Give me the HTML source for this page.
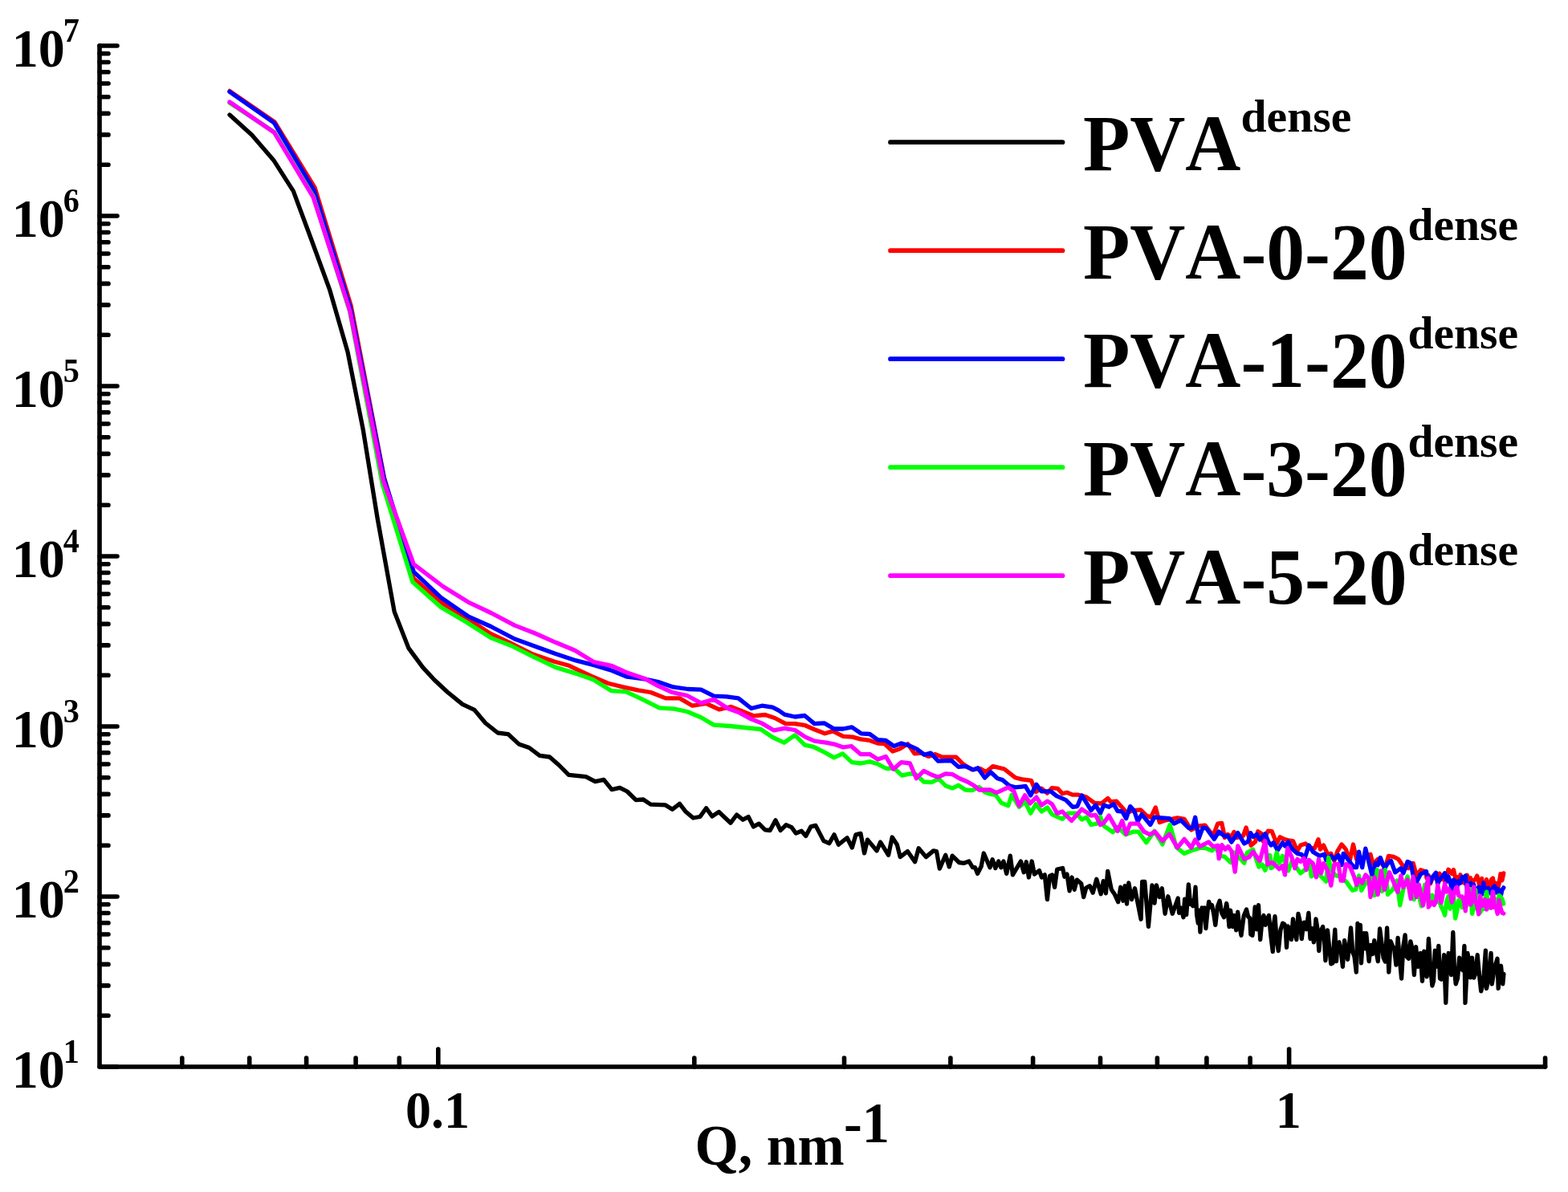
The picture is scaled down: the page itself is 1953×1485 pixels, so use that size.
<!DOCTYPE html>
<html><head><meta charset="utf-8"><title>SAXS</title>
<style>html,body{margin:0;padding:0;background:#fff;overflow:hidden}svg{display:block}text{font-kerning:none}</style>
</head><body>
<svg width="1953" height="1485" viewBox="0 0 1953 1485" font-family="'Liberation Serif', 'Times New Roman', serif" font-weight="bold" style="font-kerning:none">
<path d="M124.0,57.0 L124.0,1329.0 L1924.6,1329.0" fill="none" stroke="#000" stroke-width="5.6" stroke-linecap="round" stroke-linejoin="round"/>
<path d="M124.0,1329.0h22M124.0,1265.2h11M124.0,1227.9h11M124.0,1201.4h11M124.0,1180.8h11M124.0,1164.0h11M124.0,1149.8h11M124.0,1137.5h11M124.0,1126.7h11M124.0,1117.0h22M124.0,1053.2h11M124.0,1015.9h11M124.0,989.4h11M124.0,968.8h11M124.0,952.0h11M124.0,937.8h11M124.0,925.5h11M124.0,914.7h11M124.0,905.0h22M124.0,841.2h11M124.0,803.9h11M124.0,777.4h11M124.0,756.8h11M124.0,740.0h11M124.0,725.8h11M124.0,713.5h11M124.0,702.7h11M124.0,693.0h22M124.0,629.2h11M124.0,591.9h11M124.0,565.4h11M124.0,544.8h11M124.0,528.0h11M124.0,513.8h11M124.0,501.5h11M124.0,490.7h11M124.0,481.0h22M124.0,417.2h11M124.0,379.9h11M124.0,353.4h11M124.0,332.8h11M124.0,316.0h11M124.0,301.8h11M124.0,289.5h11M124.0,278.7h11M124.0,269.0h22M124.0,205.2h11M124.0,167.9h11M124.0,141.4h11M124.0,120.8h11M124.0,104.0h11M124.0,89.8h11M124.0,77.5h11M124.0,66.7h11M124.0,57.0h22M545.8,1329.0v-22M1605.6,1329.0v-22M226.8,1329.0v-11M310.7,1329.0v-11M381.6,1329.0v-11M443.1,1329.0v-11M497.3,1329.0v-11M864.8,1329.0v-11M1051.5,1329.0v-11M1183.9,1329.0v-11M1286.6,1329.0v-11M1370.5,1329.0v-11M1441.4,1329.0v-11M1502.9,1329.0v-11M1557.1,1329.0v-11M1924.6,1329.0v-11" fill="none" stroke="#000" stroke-width="5.6" stroke-linecap="round"/>
<text transform="translate(14.72,1355.0) scale(0.978,1)" font-size="67.5">10</text>
<text transform="translate(78.8,1323.7) scale(0.97,1)" font-size="41.5">1</text>
<text transform="translate(14.72,1143.0) scale(0.978,1)" font-size="67.5">10</text>
<text transform="translate(78.8,1111.7) scale(0.97,1)" font-size="41.5">2</text>
<text transform="translate(14.72,931.0) scale(0.978,1)" font-size="67.5">10</text>
<text transform="translate(78.8,899.7) scale(0.97,1)" font-size="41.5">3</text>
<text transform="translate(14.72,719.0) scale(0.978,1)" font-size="67.5">10</text>
<text transform="translate(78.8,687.7) scale(0.97,1)" font-size="41.5">4</text>
<text transform="translate(14.72,507.0) scale(0.978,1)" font-size="67.5">10</text>
<text transform="translate(78.8,475.7) scale(0.97,1)" font-size="41.5">5</text>
<text transform="translate(14.72,295.0) scale(0.978,1)" font-size="67.5">10</text>
<text transform="translate(78.8,263.7) scale(0.97,1)" font-size="41.5">6</text>
<text transform="translate(14.72,83.0) scale(0.978,1)" font-size="67.5">10</text>
<text transform="translate(78.8,51.7) scale(0.97,1)" font-size="41.5">7</text>
<text transform="translate(545.0,1405) scale(0.97,1)" font-size="66" text-anchor="middle">0.1</text>
<text transform="translate(1604.8,1405) scale(0.97,1)" font-size="66" text-anchor="middle">1</text>
<text transform="translate(865.5,1450.5) scale(0.97,1)" font-size="72">Q, nm</text>
<text transform="translate(1051,1423) scale(0.95,1)" font-size="72">-1</text>
<path d="M1109,177.2H1323.5" stroke="#000000" stroke-width="5.7" stroke-linecap="round"/>
<text transform="translate(1348.9,212) scale(0.963,1)" font-size="99.3">PVA</text>
<text x="1545.6" y="164.3" font-size="57.6">dense</text>
<path d="M1109,312.2H1323.5" stroke="#ff0000" stroke-width="5.7" stroke-linecap="round"/>
<text transform="translate(1348.9,347) scale(0.963,1)" font-size="99.3">PVA-0-20</text>
<text x="1753.5" y="299.3" font-size="57.6">dense</text>
<path d="M1109,447.2H1323.5" stroke="#0000ff" stroke-width="5.7" stroke-linecap="round"/>
<text transform="translate(1348.9,482) scale(0.963,1)" font-size="99.3">PVA-1-20</text>
<text x="1753.5" y="434.3" font-size="57.6">dense</text>
<path d="M1109,582.2H1323.5" stroke="#00ff00" stroke-width="5.7" stroke-linecap="round"/>
<text transform="translate(1348.9,617) scale(0.963,1)" font-size="99.3">PVA-3-20</text>
<text x="1753.5" y="569.3" font-size="57.6">dense</text>
<path d="M1109,717.2H1323.5" stroke="#ff00ff" stroke-width="5.7" stroke-linecap="round"/>
<text transform="translate(1348.9,752) scale(0.963,1)" font-size="99.3">PVA-5-20</text>
<text x="1753.5" y="704.3" font-size="57.6">dense</text>
<path d="M286.0,143.0 L313.8,168.3 L340.7,199.4 L365.4,238.2 L388.0,299.0 L410.8,361.4 L433.0,438.2 L452.3,535.6 L470.1,645.5 L491.2,762.1 L508.9,807.4 L526.6,831.4 L541.0,847.0 L557.7,862.5 L576.0,877.4 L590.9,884.4 L604.6,900.7 L620.0,913.0 L633.0,914.6 L646.1,926.9 L659.1,931.5 L672.2,941.4 L684.5,943.0 L696.0,953.0 L708.3,965.3 L729.8,967.6 L741.3,973.7 L752.1,971.4 L762.0,983.7 L772.0,981.4 L781.2,986.0 L792.0,996.7 L801.2,996.0 L810.4,1002.1 L828.9,1002.9 L837.3,1008.3 L846.5,1001.4 L854.2,1011.3 L863.4,1019.0 L871.9,1017.5 L879.6,1006.7 L886.9,1016.9 L895.4,1011.5 L910.0,1025.3 L917.6,1015.0 L925.3,1021.2 L932.2,1017.6 L938.4,1029.9 L945.3,1026.1 L953.0,1033.8 L959.1,1034.5 L966.0,1021.8 L972.2,1034.5 L979.1,1027.6 L986.0,1030.7 L991.4,1038.1 L998.3,1035.3 L1003.7,1041.4 L1009.8,1029.9 L1015.9,1028.4 L1025.9,1047.6 L1032.8,1050.7 L1039.0,1039.9 L1044.4,1052.2 L1055.1,1043.7 L1061.3,1056.0 L1065.9,1039.9 L1072.0,1038.4 L1076.6,1062.9 L1080.5,1046.1 L1092.0,1059.9 L1096.6,1049.1 L1106.6,1065.3 L1111.2,1043.0 L1117.3,1052.2 L1121.2,1067.6 L1130.4,1060.6 L1139.6,1073.7 L1144.2,1056.8 L1153.4,1067.6 L1162.6,1059.9 L1166.5,1060.6 L1170.3,1082.1 L1177.7,1065.3 L1182.3,1079.9 L1186.1,1066.1 L1194.6,1074.5 L1200.7,1075.3 L1206.9,1073.0 L1211.5,1080.7 L1214.5,1080.7 L1217.6,1088.4 L1222.2,1079.2 L1225.3,1063.0 L1233.0,1080.7 L1236.1,1070.7 L1239.9,1081.5 L1243.7,1073.0 L1246.8,1080.7 L1249.9,1073.0 L1253.7,1088.4 L1258.3,1066.1 L1261.4,1089.9 L1271.4,1073.0 L1275.2,1086.8 L1278.3,1073.8 L1281.4,1093.0 L1285.2,1073.0 L1288.3,1089.1 L1294.4,1084.5 L1297.5,1093.0 L1301.3,1089.9 L1304.4,1120.6 L1307.5,1091.4 L1310.6,1089.9 L1313.6,1105.3 L1316.7,1083.0 L1323.6,1081.5 L1325.9,1092.2 L1329.0,1089.1 L1332.1,1109.9 L1335.1,1093.0 L1338.2,1108.3 L1341.3,1096.1 L1346.7,1100.7 L1349.7,1117.6 L1352.8,1106.0 L1357.4,1103.7 L1361.2,1112.2 L1365.8,1095.3 L1371.2,1113.7 L1374.3,1097.6 L1377.4,1112.9 L1379.7,1085.3 L1384.3,1108.3 L1388.1,1113.7 L1392.7,1123.7 L1395.8,1105.3 L1398.9,1122.2 L1401.2,1103.7 L1403.5,1126.0 L1405.8,1099.9 L1409.6,1120.6 L1413.5,1106.8 L1421.1,1145.2 L1422.7,1098.4 L1425.8,1098.4 L1430.4,1154.4 L1435.0,1103.0 L1438.0,1125.2 L1440.4,1103.0 L1444.2,1117.6 L1447.3,1106.8 L1451.1,1138.3 L1454.9,1116.8 L1460.3,1138.3 L1467.2,1119.1 L1468.6,1137.3 L1470.8,1130.9 L1474.0,1142.7 L1475.6,1120.1 L1477.7,1139.5 L1480.4,1101.8 L1482.6,1126.6 L1484.2,1121.7 L1485.8,1128.7 L1487.4,1123.9 L1489.0,1105.1 L1490.7,1140.2 L1492.3,1150.2 L1493.6,1134.2 L1494.9,1161.0 L1497.1,1130.9 L1498.7,1142.6 L1500.3,1130.9 L1501.9,1156.7 L1503.8,1137.2 L1505.7,1123.3 L1507.6,1130.1 L1509.5,1127.6 L1511.7,1138.2 L1513.8,1152.4 L1516.4,1129.7 L1519.1,1122.3 L1521.8,1137.6 L1524.5,1142.7 L1526.1,1133.7 L1527.7,1125.5 L1529.3,1135.8 L1531.0,1154.5 L1532.6,1134.1 L1533.9,1143.4 L1535.3,1154.5 L1537.4,1140.5 L1539.6,1158.8 L1541.7,1136.2 L1543.8,1153.6 L1546.0,1165.3 L1549.2,1140.9 L1552.5,1133.0 L1554.7,1142.1 L1556.8,1143.8 L1557.8,1164.2 L1560.0,1165.3 L1561.6,1150.9 L1563.2,1129.8 L1565.3,1157.9 L1567.5,1127.6 L1569.7,1170.6 L1571.8,1148.7 L1574.0,1140.5 L1576.1,1152.4 L1578.2,1145.6 L1580.4,1140.5 L1582.8,1165.1 L1585.3,1185.7 L1586.7,1150.1 L1588.0,1141.6 L1590.2,1171.9 L1592.3,1184.6 L1594.9,1158.6 L1597.6,1150.2 L1599.8,1151.3 L1601.2,1156.1 L1602.5,1180.3 L1604.1,1154.0 L1605.7,1156.7 L1607.1,1155.9 L1608.4,1170.6 L1610.5,1144.8 L1612.7,1162.6 L1614.8,1170.6 L1617.0,1138.4 L1619.2,1148.1 L1621.3,1169.6 L1622.9,1156.2 L1624.5,1149.1 L1627.2,1157.7 L1629.9,1137.3 L1632.0,1169.6 L1634.2,1156.6 L1636.3,1173.9 L1637.7,1163.6 L1639.0,1144.8 L1640.9,1156.6 L1642.8,1184.6 L1645.2,1159.8 L1647.6,1154.5 L1649.2,1165.6 L1650.9,1196.5 L1653.5,1158.8 L1655.7,1180.7 L1657.8,1200.8 L1660.0,1199.8 L1661.4,1176.0 L1662.8,1158.2 L1664.5,1197.6 L1666.2,1175.0 L1667.9,1173.9 L1670.2,1184.2 L1672.4,1204.3 L1674.6,1171.7 L1676.6,1183.3 L1678.6,1195.3 L1680.5,1177.8 L1682.5,1155.9 L1684.8,1186.3 L1687.0,1191.8 L1689.3,1211.1 L1691.0,1150.3 L1692.7,1187.4 L1694.4,1152.5 L1695.5,1199.8 L1697.2,1173.2 L1698.9,1162.7 L1700.3,1181.9 L1701.7,1162.7 L1703.4,1180.4 L1705.1,1197.6 L1707.3,1177.3 L1709.5,1188.6 L1711.8,1171.7 L1714.0,1184.8 L1716.3,1197.6 L1718.6,1157.0 L1720.8,1174.2 L1723.1,1193.1 L1725.3,1198.0 L1727.6,1155.9 L1729.8,1211.1 L1732.1,1172.7 L1734.4,1178.4 L1736.7,1182.5 L1738.9,1202.1 L1741.1,1168.3 L1743.3,1194.4 L1745.6,1219.0 L1747.8,1179.4 L1750.1,1164.9 L1752.3,1192.1 L1754.6,1194.2 L1756.9,1172.8 L1759.2,1182.6 L1761.4,1214.5 L1763.6,1179.6 L1765.9,1204.3 L1767.6,1201.4 L1769.3,1187.5 L1771.5,1222.4 L1773.8,1185.2 L1775.5,1207.4 L1777.2,1216.7 L1779.4,1169.4 L1781.7,1205.6 L1783.9,1228.0 L1785.6,1221.7 L1787.3,1184.1 L1789.5,1204.0 L1791.8,1178.4 L1793.5,1219.0 L1795.2,1220.1 L1796.9,1211.4 L1798.6,1189.7 L1800.8,1249.4 L1802.5,1205.1 L1804.2,1187.5 L1805.9,1196.8 L1807.6,1214.5 L1809.8,1161.5 L1811.5,1208.5 L1813.2,1225.8 L1815.5,1218.9 L1817.7,1193.1 L1820.0,1207.0 L1822.2,1208.9 L1823.9,1178.4 L1825.0,1249.4 L1826.5,1219.3 L1827.9,1187.5 L1829.6,1196.6 L1831.2,1217.9 L1833.5,1193.1 L1835.8,1218.2 L1838.0,1212.2 L1840.2,1189.7 L1842.5,1214.6 L1844.7,1234.8 L1847.6,1223.2 L1850.4,1184.1 L1851.5,1231.4 L1854.3,1217.4 L1857.1,1187.5 L1858.3,1225.8 L1861.7,1204.5 L1865.0,1194.2 L1866.2,1231.4 L1867.8,1209.0 L1869.5,1203.2 L1871.8,1225.8 L1872.9,1213.4" fill="none" stroke="#000" stroke-width="5.3" stroke-linejoin="round" stroke-linecap="round"/>
<path d="M286.0,113.4 L342.0,152.0 L392.2,234.0 L437.2,381.0 L478.5,595.0 L515.2,720.4 L552.0,752.2 L581.7,769.9 L610.0,789.0 L636.9,801.7 L663.7,815.1 L690.6,824.3 L709.0,829.3 L720.0,834.6 L737.3,842.6 L757.3,851.2 L775.9,855.9 L794.6,859.9 L810.5,862.5 L829.2,869.9 L846.5,869.9 L862.5,879.2 L879.8,876.5 L895.7,883.8 L910.4,880.5 L923.7,885.8 L938.3,891.8 L953.0,890.5 L965.0,894.5 L978.6,901.6 L990.1,901.6 L1003.0,903.7 L1014.4,908.7 L1027.3,913.8 L1037.4,910.9 L1050.3,917.3 L1061.8,918.1 L1071.8,920.9 L1083.3,922.4 L1093.3,926.0 L1101.9,926.7 L1111.9,936.0 L1120.5,933.1 L1130.6,926.7 L1139.2,938.9 L1147.8,938.1 L1156.4,942.4 L1165.0,939.6 L1173.6,943.2 L1190.8,943.2 L1199.4,951.8 L1210.9,958.9 L1220.9,957.5 L1228.1,961.8 L1236.7,954.6 L1250.8,958.0 L1264.4,968.7 L1273.0,970.9 L1284.4,972.3 L1290.2,986.6 L1297.3,982.3 L1304.5,988.1 L1310.3,981.6 L1317.4,982.3 L1323.2,988.8 L1328.9,987.3 L1336.1,990.2 L1343.2,990.2 L1353.3,993.1 L1363.3,1000.3 L1371.9,1001.0 L1379.8,994.5 L1383.4,998.8 L1390.5,998.1 L1397.7,1006.0 L1403.4,1012.4 L1412.0,1009.6 L1420.6,1008.9 L1427.8,1016.0 L1433.5,1018.2 L1439.3,1006.0 L1444.3,1024.6 L1452.2,1021.8 L1466.5,1018.9 L1475.1,1020.3 L1483.7,1033.9 L1493.8,1028.9 L1500.9,1028.2 L1511.0,1041.1 L1516.7,1026.1 L1521.8,1025.5 L1525.5,1043.6 L1529.1,1039.4 L1533.9,1042.4 L1537.0,1036.4 L1540.0,1043.6 L1548.5,1041.2 L1552.1,1030.9 L1558.2,1053.3 L1563.6,1048.5 L1566.7,1035.8 L1571.5,1038.8 L1573.3,1047.9 L1579.4,1035.2 L1584.1,1035.6 L1590.2,1051.0 L1594.3,1042.8 L1600.5,1045.8 L1604.6,1046.9 L1610.7,1047.9 L1615.8,1060.2 L1619.9,1053.0 L1626.1,1051.0 L1631.2,1056.1 L1637.3,1057.1 L1642.0,1045.8 L1644.5,1058.1 L1648.6,1053.0 L1653.7,1064.3 L1657.8,1063.3 L1661.9,1072.5 L1666.0,1060.2 L1671.1,1052.0 L1676.3,1058.1 L1681.4,1071.4 L1685.5,1052.0 L1689.6,1070.4 L1695.7,1069.4 L1707.0,1064.3 L1710.1,1076.6 L1716.2,1070.4 L1725.4,1080.7 L1729.5,1066.3 L1735.7,1067.3 L1741.8,1070.4 L1748.0,1079.6 L1754.1,1081.7 L1760.2,1075.5 L1764.3,1090.9 L1769.5,1083.7 L1776.0,1086.0 L1777.0,1093.9 L1779.3,1090.5 L1781.6,1100.8 L1783.9,1094.6 L1786.2,1093.0 L1788.4,1094.6 L1790.7,1089.2 L1792.9,1088.2 L1795.1,1095.8 L1797.4,1090.1 L1799.6,1097.9 L1801.8,1091.9 L1804.0,1083.2 L1806.1,1085.4 L1808.3,1088.4 L1810.5,1083.6 L1812.6,1093.6 L1814.8,1092.7 L1816.9,1100.8 L1819.0,1089.8 L1821.1,1094.2 L1823.2,1099.6 L1825.3,1101.0 L1827.4,1090.3 L1829.4,1106.7 L1831.5,1093.6 L1833.6,1105.4 L1835.6,1096.3 L1837.6,1095.9 L1839.7,1091.1 L1841.7,1098.1 L1843.7,1109.4 L1845.7,1094.5 L1847.7,1108.7 L1849.7,1107.3 L1851.6,1095.7 L1853.6,1105.8 L1855.6,1107.7 L1857.5,1095.8 L1859.4,1094.1 L1861.4,1105.8 L1863.3,1100.2 L1865.2,1109.6 L1867.1,1100.6 L1869.0,1088.6 L1870.9,1096.8 L1872.8,1087.9" fill="none" stroke="#ff0000" stroke-width="5.3" stroke-linejoin="round" stroke-linecap="round"/>
<path d="M286.0,114.4 L341.5,153.1 L391.3,237.5 L436.5,384.0 L478.3,596.0 L515.3,712.3 L549.2,744.4 L583.1,767.8 L611.4,780.5 L641.1,796.0 L666.5,805.2 L692.0,814.4 L717.4,822.9 L740.0,828.6 L759.9,834.6 L781.2,843.2 L802.5,845.9 L821.2,849.9 L838.5,855.9 L857.1,858.5 L873.1,859.2 L889.1,867.2 L905.0,867.9 L919.7,869.9 L935.7,882.5 L949.0,879.2 L962.3,881.2 L970.0,885.1 L977.2,890.1 L990.1,893.0 L1002.3,891.5 L1014.4,901.6 L1026.6,900.9 L1038.8,908.0 L1050.3,908.0 L1061.0,905.9 L1072.5,913.8 L1083.3,914.5 L1093.3,921.6 L1103.3,922.4 L1113.4,929.5 L1122.7,926.0 L1132.0,928.8 L1142.0,933.1 L1151.4,940.3 L1159.2,938.1 L1168.6,948.2 L1185.0,947.5 L1193.7,955.3 L1202.3,954.6 L1212.3,958.9 L1218.0,956.8 L1226.6,969.0 L1233.8,961.8 L1242.4,969.7 L1248.6,971.6 L1257.2,978.7 L1264.4,980.9 L1277.3,979.5 L1283.7,990.9 L1290.9,977.3 L1297.3,985.9 L1308.8,985.9 L1316.0,991.6 L1327.5,996.7 L1336.1,1005.3 L1341.8,1004.6 L1347.5,990.9 L1359.0,1009.6 L1364.7,1003.1 L1370.5,1013.2 L1374.8,1003.1 L1381.2,1005.3 L1387.0,1001.7 L1392.0,1010.3 L1397.7,1011.0 L1402.7,1019.6 L1407.7,1004.6 L1412.8,1010.3 L1417.1,1023.2 L1422.1,1014.6 L1432.8,1027.5 L1437.8,1018.2 L1446.5,1018.9 L1456.5,1019.6 L1462.2,1026.1 L1470.8,1021.8 L1480.9,1031.8 L1485.2,1031.1 L1488.7,1018.2 L1493.1,1044.7 L1498.1,1031.1 L1502.4,1031.8 L1512.4,1045.4 L1518.1,1036.1 L1525.5,1041.8 L1529.1,1041.2 L1533.9,1049.1 L1541.8,1037.6 L1549.7,1050.9 L1554.5,1048.5 L1557.6,1037.6 L1560.6,1042.4 L1565.5,1039.4 L1569.1,1046.1 L1575.8,1038.8 L1580.0,1048.9 L1583.1,1053.0 L1586.1,1049.9 L1591.3,1059.2 L1597.4,1049.9 L1600.5,1054.0 L1604.6,1048.9 L1609.7,1058.1 L1615.8,1063.3 L1621.0,1064.3 L1625.1,1069.4 L1630.2,1053.0 L1635.3,1061.2 L1643.5,1066.3 L1649.6,1064.3 L1651.7,1071.4 L1657.8,1066.3 L1661.9,1070.4 L1667.0,1065.3 L1671.1,1077.6 L1673.2,1063.3 L1677.3,1068.4 L1682.4,1075.5 L1686.5,1080.7 L1689.6,1080.7 L1692.6,1061.2 L1696.7,1080.7 L1700.8,1057.1 L1709.0,1090.9 L1713.1,1075.5 L1716.2,1077.6 L1719.3,1068.4 L1724.4,1081.7 L1728.5,1075.5 L1732.6,1072.5 L1737.7,1086.8 L1744.9,1081.7 L1747.9,1087.8 L1753.1,1073.5 L1757.2,1075.5 L1760.2,1090.9 L1764.3,1099.1 L1769.5,1088.9 L1776.6,1085.8 L1777.0,1089.3 L1779.3,1093.5 L1781.6,1099.3 L1783.9,1093.0 L1786.2,1090.2 L1788.4,1087.2 L1790.7,1101.4 L1792.9,1096.0 L1795.1,1093.3 L1797.4,1091.3 L1799.6,1087.7 L1801.8,1098.5 L1804.0,1092.1 L1806.1,1097.9 L1808.3,1108.0 L1810.5,1096.2 L1812.6,1097.8 L1814.8,1105.2 L1816.9,1097.7 L1819.0,1100.3 L1821.1,1092.5 L1823.2,1094.8 L1825.3,1090.9 L1827.4,1108.1 L1829.4,1110.4 L1831.5,1100.2 L1833.6,1103.0 L1835.6,1102.0 L1837.6,1115.8 L1839.7,1111.7 L1841.7,1105.1 L1843.7,1110.1 L1845.7,1114.1 L1847.7,1099.8 L1849.7,1109.9 L1851.6,1109.8 L1853.6,1106.2 L1855.6,1111.0 L1857.5,1113.7 L1859.4,1106.3 L1861.4,1103.8 L1863.3,1112.1 L1865.2,1107.2 L1867.1,1108.9 L1869.0,1117.4 L1870.9,1108.8 L1872.8,1105.9" fill="none" stroke="#0000ff" stroke-width="5.3" stroke-linejoin="round" stroke-linecap="round"/>
<path d="M286.0,128.0 L341.5,164.5 L390.4,245.0 L435.8,388.5 L476.3,603.0 L513.9,725.1 L549.2,756.5 L580.3,774.8 L611.4,794.6 L636.9,804.5 L665.1,818.7 L692.0,831.4 L720.0,839.9 L738.6,846.6 L761.3,860.5 L779.9,861.9 L799.9,871.2 L821.2,881.8 L839.8,883.2 L855.8,886.5 L873.1,893.8 L889.1,903.1 L909.0,904.5 L927.7,906.5 L947.6,908.5 L962.3,918.5 L976.5,925.2 L990.1,915.9 L1002.3,928.1 L1013.0,930.3 L1027.3,937.4 L1038.8,943.9 L1049.6,938.9 L1061.0,949.6 L1071.8,951.0 L1083.3,948.9 L1093.3,951.8 L1104.1,957.5 L1113.4,956.8 L1123.4,966.1 L1133.4,963.9 L1140.6,964.7 L1150.6,974.0 L1160.0,974.7 L1169.3,970.4 L1177.9,979.0 L1186.5,981.9 L1193.7,978.3 L1202.3,984.0 L1210.9,984.7 L1219.5,980.4 L1226.6,986.9 L1235.2,989.7 L1240.0,990.2 L1247.2,1000.3 L1255.8,1003.8 L1260.1,990.2 L1269.4,1005.3 L1276.6,998.8 L1283.7,1013.2 L1290.2,1001.7 L1297.3,1011.0 L1304.5,1006.0 L1310.3,1014.6 L1323.2,1020.3 L1330.3,1013.2 L1340.4,1013.2 L1347.5,1021.0 L1353.3,1018.2 L1359.0,1027.5 L1366.2,1026.1 L1370.5,1017.5 L1374.8,1028.9 L1386.2,1036.8 L1392.0,1030.4 L1402.0,1039.7 L1412.0,1036.1 L1417.8,1036.1 L1427.8,1049.7 L1437.8,1035.4 L1447.9,1051.9 L1457.2,1027.5 L1465.1,1055.4 L1475.1,1063.3 L1483.7,1059.7 L1495.2,1056.2 L1502.4,1056.9 L1509.5,1059.7 L1513.9,1054.5 L1519.0,1066.0 L1525.5,1067.3 L1532.7,1074.5 L1537.0,1062.0 L1543.6,1068.5 L1549.7,1075.2 L1553.3,1062.4 L1560.6,1058.2 L1567.9,1080.0 L1572.1,1077.0 L1575.8,1084.2 L1581.8,1065.5 L1583.1,1081.7 L1586.1,1079.6 L1590.2,1062.2 L1593.3,1075.5 L1597.4,1066.3 L1604.6,1084.8 L1609.7,1071.4 L1613.8,1079.6 L1619.9,1087.8 L1625.1,1083.7 L1631.2,1077.6 L1633.3,1091.9 L1638.4,1087.8 L1644.5,1090.9 L1651.7,1098.1 L1654.8,1068.4 L1657.8,1083.7 L1664.0,1090.9 L1669.1,1091.9 L1677.3,1099.1 L1684.5,1109.3 L1688.5,1108.3 L1692.6,1090.9 L1695.7,1109.3 L1700.8,1100.1 L1708.0,1094.0 L1712.1,1115.5 L1715.2,1083.7 L1721.3,1110.4 L1725.4,1083.7 L1728.5,1114.5 L1734.6,1108.3 L1739.8,1097.0 L1743.8,1127.8 L1747.9,1107.3 L1753.1,1091.9 L1757.2,1107.3 L1761.3,1120.6 L1764.3,1103.2 L1770.5,1128.8 L1774.6,1102.2 L1777.0,1107.9 L1779.3,1125.9 L1781.6,1123.7 L1783.9,1115.3 L1786.2,1121.1 L1788.4,1123.7 L1790.7,1122.8 L1792.9,1123.2 L1795.1,1129.8 L1797.4,1134.0 L1799.6,1140.2 L1801.8,1123.1 L1804.0,1116.5 L1806.1,1132.2 L1808.3,1121.4 L1810.5,1116.0 L1812.6,1144.1 L1814.8,1134.9 L1816.9,1121.7 L1819.0,1122.3 L1821.1,1130.6 L1823.2,1128.4 L1825.3,1131.7 L1827.4,1125.4 L1829.4,1107.4 L1831.5,1107.6 L1833.6,1138.3 L1835.6,1130.1 L1837.6,1108.4 L1839.7,1131.8 L1841.7,1131.7 L1843.7,1136.8 L1845.7,1128.9 L1847.7,1132.7 L1849.7,1119.7 L1851.6,1111.1 L1853.6,1126.9 L1855.6,1131.1 L1857.5,1125.3 L1859.4,1112.0 L1861.4,1123.1 L1863.3,1120.5 L1865.2,1133.6 L1867.1,1115.4 L1869.0,1116.9 L1870.9,1120.0 L1872.8,1126.0" fill="none" stroke="#00ff00" stroke-width="5.3" stroke-linejoin="round" stroke-linecap="round"/>
<path d="M286.0,127.0 L341.5,165.0 L390.1,245.6 L435.8,387.0 L477.5,599.0 L515.3,702.9 L551.6,730.5 L583.1,750.1 L611.4,763.5 L641.1,779.1 L666.5,789.0 L692.0,800.3 L716.0,810.2 L739.3,824.6 L761.3,829.3 L782.6,838.6 L802.5,845.2 L819.8,854.6 L837.2,862.5 L855.8,866.5 L873.1,875.9 L889.1,871.2 L906.4,882.5 L921.0,887.8 L935.7,895.8 L949.0,901.1 L963.6,909.8 L977.2,907.3 L990.1,909.5 L1003.0,918.1 L1014.4,923.1 L1028.8,925.2 L1040.3,927.4 L1050.3,931.0 L1060.3,929.5 L1071.8,939.6 L1083.3,939.6 L1093.3,946.0 L1103.3,942.4 L1112.7,958.2 L1122.7,949.6 L1133.4,951.0 L1141.3,969.7 L1150.6,960.4 L1159.2,964.7 L1168.6,968.2 L1177.9,963.9 L1186.5,964.7 L1195.1,969.7 L1205.1,974.0 L1213.7,979.0 L1219.5,984.0 L1233.8,984.0 L1241.0,987.6 L1255.8,980.9 L1262.9,985.9 L1269.4,1003.8 L1276.6,990.9 L1283.0,1001.0 L1290.9,993.1 L1297.3,1003.1 L1304.5,998.1 L1310.3,1001.7 L1316.7,1013.2 L1323.2,1011.0 L1334.6,1022.5 L1347.5,1008.1 L1359.0,1016.0 L1364.7,1015.3 L1370.5,1027.5 L1374.8,1025.3 L1381.2,1016.0 L1392.0,1035.4 L1397.7,1022.5 L1402.7,1039.0 L1407.7,1026.1 L1417.8,1026.1 L1424.9,1036.1 L1432.1,1039.7 L1438.6,1036.1 L1447.9,1047.6 L1456.5,1039.0 L1466.5,1056.2 L1475.1,1045.4 L1483.7,1056.2 L1488.7,1046.1 L1494.5,1054.7 L1505.2,1049.0 L1511.0,1054.7 L1516.7,1053.3 L1518.2,1069.7 L1521.8,1052.7 L1526.1,1058.2 L1529.7,1054.5 L1533.9,1060.6 L1538.2,1086.1 L1541.8,1053.9 L1549.7,1070.3 L1555.8,1067.9 L1560.6,1061.2 L1569.1,1072.7 L1575.8,1047.9 L1578.8,1077.0 L1583.6,1074.5 L1586.1,1075.5 L1593.3,1082.7 L1597.4,1078.6 L1600.5,1089.9 L1603.6,1057.1 L1608.7,1067.3 L1612.8,1081.7 L1615.8,1070.4 L1619.9,1073.5 L1624.0,1069.4 L1627.1,1083.7 L1630.2,1071.4 L1635.3,1075.5 L1639.4,1092.9 L1642.5,1070.4 L1645.5,1087.8 L1648.6,1075.5 L1653.7,1084.8 L1657.8,1103.2 L1661.9,1076.6 L1667.0,1076.6 L1670.1,1097.0 L1673.2,1097.0 L1676.3,1076.6 L1681.4,1079.6 L1686.5,1091.9 L1689.6,1102.2 L1692.6,1095.0 L1696.7,1100.1 L1700.8,1089.9 L1704.9,1094.0 L1707.0,1117.5 L1712.1,1092.9 L1716.2,1114.5 L1720.3,1084.8 L1724.4,1108.3 L1730.5,1086.8 L1734.6,1096.0 L1740.8,1111.4 L1744.9,1090.9 L1747.9,1105.2 L1753.1,1096.0 L1757.2,1119.6 L1760.2,1091.9 L1764.3,1117.5 L1767.4,1102.2 L1772.5,1127.8 L1778.7,1094.0 L1779.3,1130.1 L1781.6,1126.7 L1783.9,1123.7 L1786.2,1127.4 L1788.4,1123.7 L1790.7,1102.7 L1792.9,1113.2 L1795.1,1124.5 L1797.4,1112.4 L1799.6,1100.8 L1801.8,1111.1 L1804.0,1107.4 L1806.1,1110.3 L1808.3,1124.1 L1810.5,1116.1 L1812.6,1108.3 L1814.8,1105.1 L1816.9,1115.8 L1819.0,1117.0 L1821.1,1117.0 L1823.2,1121.2 L1825.3,1134.9 L1827.4,1102.6 L1829.4,1111.8 L1831.5,1127.2 L1833.6,1123.2 L1835.6,1104.8 L1837.6,1121.7 L1839.7,1128.2 L1841.7,1138.9 L1843.7,1116.2 L1845.7,1128.5 L1847.7,1126.7 L1849.7,1120.7 L1851.6,1133.1 L1853.6,1122.2 L1855.6,1121.8 L1857.5,1131.1 L1859.4,1110.8 L1861.4,1130.4 L1863.3,1129.3 L1865.2,1138.5 L1867.1,1121.3 L1869.0,1130.9 L1870.9,1137.3 L1872.8,1138.0" fill="none" stroke="#ff00ff" stroke-width="5.3" stroke-linejoin="round" stroke-linecap="round"/>
</svg>
</body></html>
